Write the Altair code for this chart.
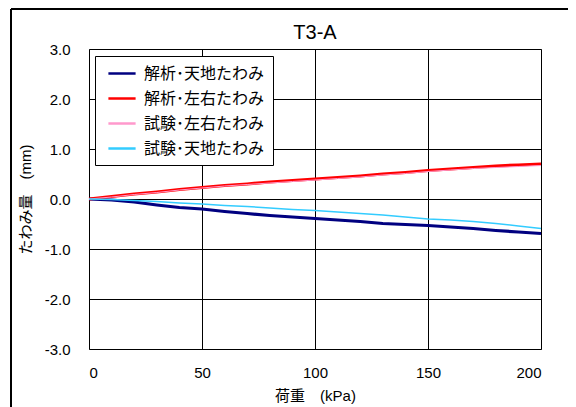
import altair as alt
import pandas as pd

load = [0, 10, 20, 30, 40, 50, 60, 70, 80, 90, 100, 110, 120, 130, 140, 150, 160, 170, 180, 190, 200]
ana_v = [0, -0.02, -0.06, -0.12, -0.17, -0.20, -0.25, -0.29, -0.33, -0.36, -0.39, -0.42, -0.45, -0.49, -0.51, -0.53, -0.56, -0.59, -0.63, -0.66, -0.69]
ana_h = [0, 0.05, 0.10, 0.14, 0.19, 0.23, 0.27, 0.30, 0.34, 0.37, 0.40, 0.43, 0.46, 0.50, 0.53, 0.57, 0.60, 0.63, 0.66, 0.68, 0.70]
test_h = [0, 0.04, 0.09, 0.13, 0.18, 0.22, 0.26, 0.29, 0.32, 0.35, 0.38, 0.41, 0.44, 0.48, 0.51, 0.55, 0.58, 0.61, 0.63, 0.65, 0.67]
test_v = [0, -0.01, -0.03, -0.05, -0.08, -0.10, -0.13, -0.15, -0.18, -0.21, -0.23, -0.26, -0.29, -0.32, -0.36, -0.40, -0.42, -0.45, -0.49, -0.54, -0.59]

names = ["解析･天地たわみ", "解析･左右たわみ", "試験･左右たわみ", "試験･天地たわみ"]
colors = ["#000080", "#FF0000", "#FF99CC", "#33CCFF"]
widths = [3.2, 3.2, 1, 1.5]
series = [ana_v, ana_h, test_h, test_v]
title_text = "T3-A"

rows = []
for i, (n, vals) in enumerate(zip(names, series)):
    for x, y in zip(load, vals):
        rows.append({"load": x, "defl": y, "series": n, "order": i, "w": widths[i]})
df = pd.DataFrame(rows)

FONT = "Liberation Sans, Noto Sans CJK JP, sans-serif"

y_label = "datum.value < 0 ? '-' + format(-datum.value, '.1f') : format(datum.value, '.1f')"

lines = alt.Chart(df).mark_line().encode(
    x=alt.X("load:Q", scale=alt.Scale(domain=[0, 200], nice=False),
            axis=alt.Axis(values=[0, 50, 100, 150, 200], title="荷重　(kPa)",
                          labelPadding=16, titlePadding=8)),
    y=alt.Y("defl:Q", scale=alt.Scale(domain=[-3, 3], nice=False),
            axis=alt.Axis(values=[-3, -2, -1, 0, 1, 2, 3], labelExpr=y_label,
                          title="たわみ量　(mm)", labelPadding=19, titlePadding=11)),
    color=alt.Color("series:N", scale=alt.Scale(domain=names, range=colors),
                    legend=alt.Legend(title=None, orient="none", legendX=6, legendY=7,
                                      symbolStrokeWidth=2.5)),
    strokeWidth=alt.StrokeWidth("w:Q", scale=None, legend=None),
    detail="order:O",
)

frame_df = pd.DataFrame({"a": [0]})
left = alt.Chart(frame_df).mark_rule(color="black", strokeWidth=2).encode(
    x=alt.value(-78), y=alt.value(-40), y2=alt.value(370))
top = alt.Chart(frame_df).mark_rule(color="black", strokeWidth=2).encode(
    x=alt.value(-78), x2=alt.value(480), y=alt.value(-40))
title = alt.Chart(pd.DataFrame({"t": [title_text]})).mark_text(
    font=FONT, fontSize=20, color="black", baseline="middle", align="center"
).encode(text="t:N", x=alt.value(226), y=alt.value(-16))

chart = alt.layer(lines, left, top, title).properties(
    width=452, height=300,
    background="white",
    autosize=alt.AutoSizeParams(type="none"),
    padding={"left": 81, "top": 41, "right": 27, "bottom": 58},
).configure_view(stroke="#808080", strokeWidth=1
).configure_axis(
    grid=True, gridColor="black", gridWidth=1, gridOpacity=1,
    domain=False, ticks=False,
    labelFont=FONT, labelFontSize=15, labelColor="black",
    titleFont=FONT, titleFontSize=15, titleFontWeight="normal", titleColor="black",
).configure_legend(
    labelFont=FONT, labelFontSize=16, labelColor="black",
    symbolType="M-1.7,0H1.7", symbolSize=256, rowPadding=7,
    strokeColor="black", fillColor="white", padding=8, cornerRadius=0,
    labelOffset=12.5, symbolOffset=9.5,
)

chart.save("out.html", embed_options={"renderer": "svg", "actions": False})
